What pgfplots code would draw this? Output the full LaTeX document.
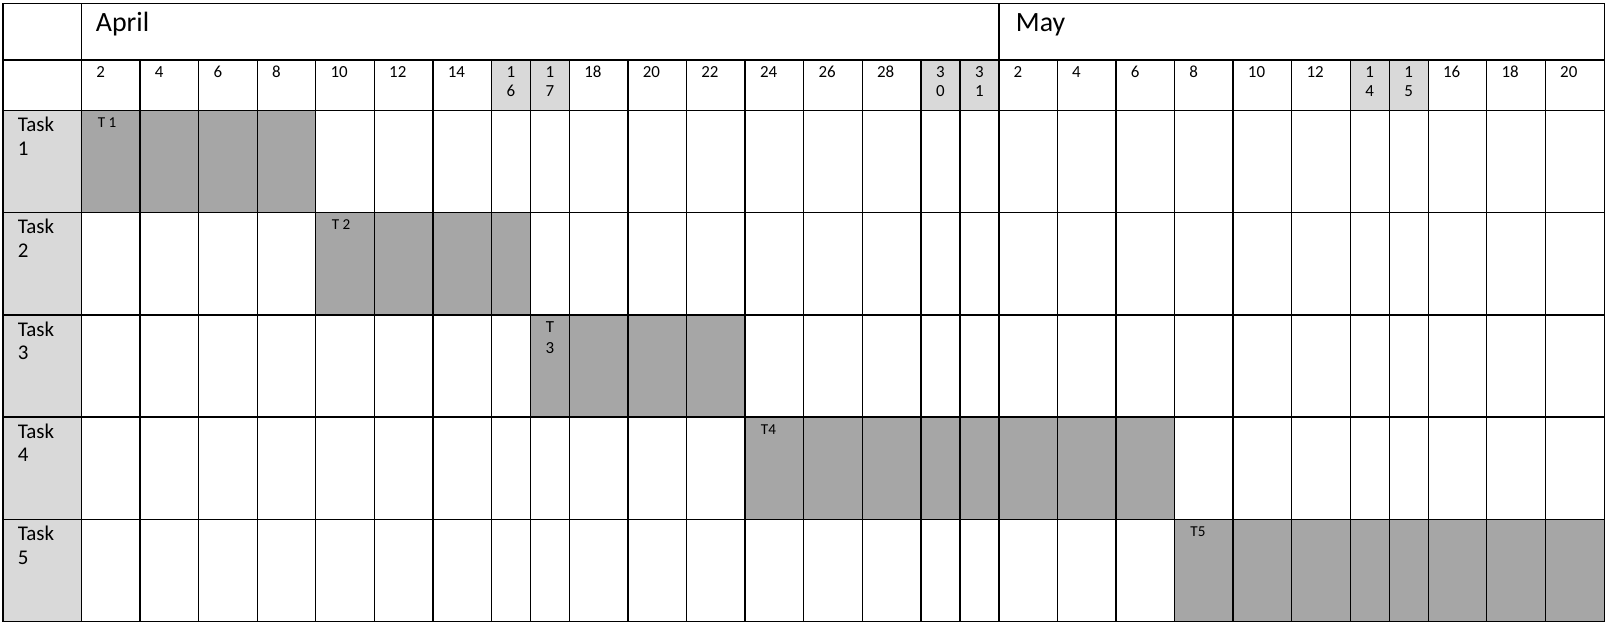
\documentclass[border=0pt]{standalone}
\usepackage{pgfplots}
\pgfplotsset{compat=1.18}
\usepackage{fontspec}
\setmainfont{Carlito}

\definecolor{lightcell}{HTML}{D9D9D9}
\definecolor{barcell}{HTML}{A6A6A6}

% helpers: day label in a wide column, stacked label in a narrow one
\newcommand{\dayw}[2]{\node[anchor=base west, inner sep=0pt, font=\fontsize{8.5}{9}\selectfont] at (axis cs:#1,77) {#2};}
\newcommand{\dayn}[3]{%
  \node[anchor=base, inner sep=0pt, font=\fontsize{8.5}{9}\selectfont] at (axis cs:#1,77.5) {#2};
  \node[anchor=base, inner sep=0pt, font=\fontsize{8.5}{9}\selectfont] at (axis cs:#1,96.5) {#3};}
\newcommand{\task}[2]{%
  \node[anchor=base west, inner sep=0pt, font=\fontsize{10.5}{12}\selectfont] at (axis cs:17.5,#1) {Task};
  \node[anchor=base west, inner sep=0pt, font=\fontsize{10.5}{12}\selectfont] at (axis cs:17.5,#1+23.5) {#2};}

\begin{document}
\begin{tikzpicture}
\begin{axis}[
    scale only axis,
    width=804bp, height=313.5bp,
    xmin=0, xmax=1608,
    ymin=0, ymax=627,
    y dir=reverse,
    hide axis,
]

% background
\addplot[fill=white, draw=none] coordinates {(0,0) (1608,0) (1608,627) (0,627)} -- cycle;

% task name column and weekend header cells
\addplot[fill=lightcell, draw=none] coordinates {(3,110.5) (81.5,110.5) (81.5,621.5) (3,621.5)} -- cycle;
\addplot[fill=lightcell, draw=none] coordinates {(491.4,60) (569.4,60) (569.4,110.5) (491.4,110.5)} -- cycle;
\addplot[fill=lightcell, draw=none] coordinates {(920.8,60) (998.8,60) (998.8,110.5) (920.8,110.5)} -- cycle;
\addplot[fill=lightcell, draw=none] coordinates {(1350.2,60) (1428.2,60) (1428.2,110.5) (1350.2,110.5)} -- cycle;

% task bars
\addplot[fill=barcell, draw=none] coordinates {(81.5,110.5) (315.7,110.5) (315.7,212.7) (81.5,212.7)} -- cycle;
\addplot[fill=barcell, draw=none] coordinates {(315.7,212.7) (530.4,212.7) (530.4,314.9) (315.7,314.9)} -- cycle;
\addplot[fill=barcell, draw=none] coordinates {(530.4,314.9) (745.1,314.9) (745.1,417.1) (530.4,417.1)} -- cycle;
\addplot[fill=barcell, draw=none] coordinates {(745.1,417.1) (1174.5,417.1) (1174.5,519.3) (745.1,519.3)} -- cycle;
\addplot[fill=barcell, draw=none] coordinates {(1174.5,519.3) (1603.9,519.3) (1603.9,621.5) (1174.5,621.5)} -- cycle;

% grid lines
\pgfplotsinvokeforeach{140,198.6,257.2,315.7,374.3,432.9,491.4,530.4,569.4,628,686.5,745.1,803.7,862.2,920.8,959.8,1057.3,1115.9,1174.5,1233,1291.6,1350.2,1389.2,1428.2,1486.7,1545.3}{
  \addplot[black, line width=0.7bp] coordinates {(#1,60) (#1,621.5)};
}
\pgfplotsinvokeforeach{3,81.5,998.8,1604.5}{
  \addplot[black, line width=0.7bp] coordinates {(#1,3.5) (#1,621.5)};
}
\pgfplotsinvokeforeach{3.5,60,110.5,212.7,314.9,417.1,519.3,621.5}{
  \addplot[black, line width=0.7bp] coordinates {(3,#1) (1604.5,#1)};
}

% months
\node[anchor=base west, inner sep=0pt, font=\fontsize{14}{16}\selectfont] at (axis cs:95.5,31.7) {April};
\node[anchor=base west, inner sep=0pt, font=\fontsize{14}{16}\selectfont] at (axis cs:1015.5,31.7) {May};

% days
\dayw{96}{2} \dayw{154.5}{4} \dayw{213.1}{6} \dayw{271.7}{8}
\dayw{330.2}{10} \dayw{388.8}{12} \dayw{447.4}{14}
\dayn{510.9}{1}{6} \dayn{549.9}{1}{7}
\dayw{583.9}{18} \dayw{642.5}{20} \dayw{701}{22} \dayw{759.6}{24}
\dayw{818.2}{26} \dayw{876.7}{28}
\dayn{940.3}{3}{0} \dayn{979.3}{3}{1}
\dayw{1013.3}{2} \dayw{1071.8}{4} \dayw{1130.4}{6} \dayw{1189}{8}
\dayw{1247.5}{10} \dayw{1306.1}{12}
\dayn{1369.7}{1}{4} \dayn{1408.7}{1}{5}
\dayw{1442.7}{16} \dayw{1501.2}{18} \dayw{1559.8}{20}

% task names
\task{131.7}{1}
\task{233.9}{2}
\task{336.1}{3}
\task{438.3}{4}
\task{540.5}{5}

% bar labels
\node[anchor=base west, inner sep=0pt, font=\fontsize{7.6}{8}\selectfont] at (axis cs:97.5,127.7) {T 1};
\node[anchor=base west, inner sep=0pt, font=\fontsize{7.6}{8}\selectfont] at (axis cs:331.5,229.9) {T 2};
\node[anchor=base, inner sep=0pt, font=\fontsize{8.5}{9}\selectfont] at (axis cs:549.9,332.3) {T};
\node[anchor=base, inner sep=0pt, font=\fontsize{8.5}{9}\selectfont] at (axis cs:549.9,353.3) {3};
\node[anchor=base west, inner sep=0pt, font=\fontsize{7.6}{8}\selectfont] at (axis cs:760.5,434.3) {T4};
\node[anchor=base west, inner sep=0pt, font=\fontsize{7.6}{8}\selectfont] at (axis cs:1190,536.5) {T5};

\end{axis}
\end{tikzpicture}
\end{document}
